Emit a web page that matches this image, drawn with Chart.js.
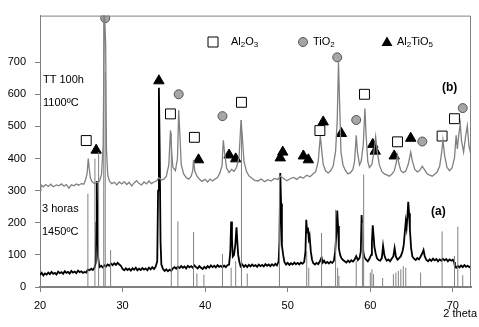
<!DOCTYPE html>
<html>
<head>
<meta charset="utf-8">
<script src="https://cdn.jsdelivr.net/npm/chart.js@4.4.0/dist/chart.umd.min.js"></script>
<style>
  html, body { margin: 0; padding: 0; background: #fff; }
  #wrap { width: 479px; height: 327px; }
</style>
</head>
<body>
<div id="wrap"><canvas id="xrd" width="479" height="327"></canvas></div>
<script>
// pattern (b): TT 100h 1100ºC (gray)
const bTheta = [20.0,20.1,20.4,20.7,21.0,21.3,21.6,22.0,22.3,22.6,22.9,23.2,23.5,23.8,24.1,24.4,24.7,25.0,25.3,25.5,25.7,25.85,25.95,26.1,26.3,26.6,26.9,27.2,27.45,27.65,27.8,27.95,28.05,28.2,28.4,28.7,29.0,29.3,29.6,29.9,30.2,30.5,30.8,31.1,31.4,31.7,32.0,32.3,32.6,32.9,33.2,33.5,33.8,34.1,34.4,34.7,35.0,35.3,35.6,35.8,35.95,36.1,36.4,36.65,36.8,36.95,37.1,37.4,37.7,38.0,38.3,38.5,38.6,38.75,39.0,39.3,39.6,40.0,40.3,40.6,40.9,41.2,41.5,41.8,42.05,42.2,42.35,42.6,42.9,43.2,43.5,43.8,44.1,44.35,44.5,44.7,45.0,45.3,45.7,46.0,46.4,46.8,47.2,47.6,48.0,48.4,48.8,49.1,49.5,49.9,50.3,50.7,51.1,51.5,51.9,52.3,52.7,53.0,53.4,53.7,53.95,54.1,54.3,54.6,54.9,55.2,55.5,55.8,56.0,56.15,56.3,56.45,56.7,57.0,57.3,57.6,57.9,58.1,58.3,58.45,58.7,58.9,59.15,59.35,59.5,59.7,59.9,60.2,60.45,60.65,60.85,61.1,61.4,61.7,62.0,62.3,62.6,62.9,63.1,63.3,63.45,63.7,64.0,64.3,64.6,64.9,65.1,65.4,65.7,66.0,66.3,66.6,66.9,67.2,67.5,67.8,68.1,68.4,68.65,68.8,69.0,69.3,69.6,69.9,70.2,70.4,70.55,70.7,70.9,71.05,71.3,71.55,71.75,71.95,72.2];
const bCounts = [300,318,312,319,313,320,312,318,315,321,314,319,308,318,315,321,317,322,320,332,352,400,372,340,328,322,326,330,350,440,860,760,430,350,330,322,326,318,327,321,328,319,326,315,324,331,322,318,327,321,330,322,327,330,340,333,336,345,380,488,420,372,362,400,550,470,382,352,341,336,344,362,396,360,346,336,329,335,327,336,330,336,341,356,378,457,420,370,356,366,360,372,402,520,470,392,360,346,338,332,330,336,328,334,330,338,335,345,338,331,337,341,335,343,339,348,343,350,360,392,470,430,382,361,355,362,376,422,520,700,560,420,380,362,352,356,366,392,472,420,380,392,442,556,470,390,372,382,422,468,420,380,360,352,349,345,351,361,382,410,386,362,356,361,382,420,392,366,358,363,376,364,352,348,345,351,358,376,420,457,410,372,362,371,402,472,430,470,508,455,420,470,502,440,410];

// pattern (a): 3 horas 1450ºC (black)
const aTheta = [20.0,20.2,20.4,20.6,20.8,21.0,21.2,21.4,21.6,21.8,22.0,22.2,22.4,22.6,22.8,23.0,23.2,23.4,23.6,23.8,24.0,24.2,24.4,24.6,24.8,25.0,25.2,25.4,25.6,25.8,26.0,26.2,26.4,26.6,26.75,26.82,26.88,26.95,27.05,27.2,27.4,27.6,27.8,28.0,28.2,28.4,28.6,28.8,29.0,29.2,29.4,29.6,29.8,30.0,30.2,30.4,30.6,30.8,31.0,31.2,31.4,31.6,31.8,32.0,32.2,32.4,32.6,32.8,33.0,33.2,33.4,33.6,33.8,34.0,34.2,34.3,34.4,34.5,34.6,34.7,34.9,35.1,35.3,35.5,35.7,35.9,36.1,36.3,36.5,36.7,36.9,37.1,37.3,37.5,37.7,37.9,38.1,38.3,38.5,38.7,38.9,39.1,39.3,39.5,39.7,39.9,40.1,40.3,40.5,40.7,40.9,41.1,41.3,41.5,41.7,41.9,42.1,42.3,42.5,42.7,42.9,43.05,43.15,43.25,43.35,43.5,43.65,43.8,43.9,44.0,44.15,44.3,44.5,44.7,44.9,45.1,45.3,45.5,45.7,45.9,46.1,46.3,46.5,46.7,46.9,47.1,47.3,47.5,47.7,47.9,48.1,48.3,48.5,48.7,48.9,49.0,49.1,49.2,49.3,49.45,49.6,49.8,50.0,50.2,50.4,50.6,50.8,51.0,51.2,51.4,51.6,51.8,52.0,52.15,52.25,52.35,52.45,52.55,52.65,52.8,52.95,53.1,53.3,53.5,53.7,53.9,54.1,54.25,54.4,54.6,54.8,55.0,55.2,55.4,55.6,55.75,55.9,56.0,56.1,56.2,56.35,56.5,56.7,56.9,57.1,57.3,57.5,57.7,57.9,58.1,58.3,58.5,58.7,58.85,58.95,59.05,59.15,59.3,59.5,59.7,59.9,60.1,60.2,60.3,60.4,60.5,60.65,60.8,61.0,61.2,61.4,61.55,61.7,61.85,62.0,62.2,62.4,62.6,62.8,62.95,63.1,63.3,63.5,63.7,63.9,64.05,64.2,64.3,64.4,64.5,64.6,64.7,64.8,64.95,65.1,65.3,65.5,65.7,65.9,66.1,66.3,66.45,66.6,66.8,67.0,67.2,67.4,67.6,67.8,68.0,68.2,68.4,68.6,68.8,69.0,69.2,69.4,69.6,69.8,70.0,70.15,70.25,70.4,70.6,70.8,71.0,71.2,71.4,71.6,71.8,72.0,72.2];
const aCounts = [38,44,36,42,39,45,40,47,41,44,39,48,43,46,41,49,44,47,42,50,45,48,43,51,46,49,44,47,45,54,52,57,53,60,75,200,330,180,90,62,66,61,68,64,70,66,73,68,74,69,75,70,66,56,52,58,53,57,51,58,54,60,52,57,53,59,54,58,52,60,55,62,56,63,80,300,620,420,140,70,56,50,55,49,54,50,58,62,57,63,59,65,60,64,58,66,61,65,60,67,62,58,65,60,56,63,58,65,60,67,62,66,61,68,63,66,61,67,62,68,70,110,204,150,95,100,130,186,140,100,78,64,70,63,68,62,69,64,70,65,68,63,70,65,69,64,71,66,70,65,71,66,72,67,80,140,355,260,130,100,78,70,75,69,74,70,76,71,75,70,76,72,78,110,209,170,185,150,160,110,85,74,70,75,71,80,92,76,82,74,78,73,79,75,82,110,170,238,190,120,100,90,84,80,76,82,77,83,79,85,96,84,90,110,224,170,110,92,85,80,88,100,140,192,160,125,105,90,84,82,90,128,100,88,82,86,80,88,96,121,95,85,90,96,110,130,175,204,185,220,265,230,180,120,95,88,84,90,86,95,105,115,95,84,80,86,81,88,83,87,80,86,82,88,83,87,80,86,82,85,78,64,60,66,61,67,62,68,63,66,62,65];

// reference pattern lines (gray sticks from zero)
const stickTheta = [25.8,26.65,27.1,27.72,27.9,28.55,35.9,36.7,38.6,39.0,39.85,42.1,43.15,43.7,44.4,45.1,49.0,52.3,52.55,54.1,55.8,56.05,56.2,58.3,59.05,59.2,60.0,60.2,60.4,61.5,62.8,63.1,63.4,63.7,64.0,64.3,66.1,68.7,70.2,70.6,71.2];
const stickHeight = [290,400,420,850,670,115,480,204,171,42,38,103,60,80,520,42,340,112,60,168,240,60,35,80,200,350,45,55,40,28,40,45,50,55,65,60,45,173,97,188,37];

// phase markers
const al2o3Theta = [25.6,35.8,38.7,44.4,53.9,59.3,63.3,68.7,70.2];
const al2o3Y = [456,539,466,575,487,600,452,470,524];
const tio2Theta = [27.9,36.8,42.1,56.0,58.3,66.3,71.2];
const tio2Y = [837,600,532,715,520,453,557];
const al2tio5Theta = [26.8,34.4,39.2,42.9,43.7,49.1,49.4,51.9,52.5,54.3,56.5,60.3,60.6,62.9,64.9];
const al2tio5Y = [426,642,396,411,399,402,420,408,396,514,478,444,423,408,463];

const xTickValues = [20, 30, 40, 50, 60, 70];
const yTickValues = [0, 100, 200, 300, 400, 500, 600, 700];

const GRAY = '#808080';
const FONT = '"Liberation Sans", Arial, sans-serif';

function pairs(xs, ys) {
    return xs.map((x, i) => ({ x: x, y: ys[i] }));
}

const stickPoints = [];
stickTheta.forEach((t, i) => {
    stickPoints.push({ x: t, y: 0 }, { x: t, y: stickHeight[i] }, { x: t, y: null });
});

function drawMarker(ctx, style, x, y) {
    ctx.save();
    ctx.lineWidth = 1;
    ctx.beginPath();
    if (style === 'rect') {
        ctx.rect(x - 5, y - 5, 10, 10);
        ctx.fillStyle = '#fff';
        ctx.strokeStyle = '#000';
        ctx.fill();
        ctx.stroke();
    } else if (style === 'circle') {
        ctx.arc(x, y, 4.5, 0, Math.PI * 2);
        ctx.fillStyle = '#a6a6a6';
        ctx.strokeStyle = '#555';
        ctx.fill();
        ctx.stroke();
    } else {
        ctx.moveTo(x, y - 5.5);
        ctx.lineTo(x + 5.5, y + 4);
        ctx.lineTo(x - 5.5, y + 4);
        ctx.closePath();
        ctx.fillStyle = '#000';
        ctx.fill();
    }
    ctx.restore();
}

// formula with subscripts: odd parts are subscripts
function drawFormula(ctx, parts, x, y) {
    let cx = x;
    parts.forEach((p, i) => {
        if (i % 2 === 0) {
            ctx.font = '11px ' + FONT;
            ctx.fillText(p, cx, y);
        } else {
            ctx.font = '8px ' + FONT;
            ctx.fillText(p, cx, y + 3);
        }
        cx += ctx.measureText(p).width;
    });
}

const decor = {
    id: 'decor',
    afterDraw(chart) {
        const ctx = chart.ctx;
        const a = chart.chartArea;
        ctx.save();
        // frame on top and right
        ctx.strokeStyle = GRAY;
        ctx.lineWidth = 1;
        ctx.beginPath();
        ctx.moveTo(a.left, a.top + 0.5);
        ctx.lineTo(a.right - 0.5, a.top + 0.5);
        ctx.lineTo(a.right - 0.5, a.bottom);
        ctx.stroke();

        // legend
        ctx.fillStyle = '#000';
        ctx.textBaseline = 'middle';
        ctx.textAlign = 'left';
        drawMarker(ctx, 'rect', 213, 42);
        drawFormula(ctx, ['Al', '2', 'O', '3'], 231, 42);
        drawMarker(ctx, 'circle', 303, 42);
        drawFormula(ctx, ['TiO', '2'], 313, 42);
        drawMarker(ctx, 'triangle', 387, 42);
        drawFormula(ctx, ['Al', '2', 'TiO', '5'], 397, 42);

        // sample notes
        ctx.fillStyle = '#000';
        ctx.font = '11px ' + FONT;
        ctx.fillText('TT 100h', 43, 80);
        ctx.fillText('1100ºC', 43, 103);
        ctx.fillText('3 horas', 42, 209);
        ctx.fillText('1450ºC', 42, 232);
        ctx.font = 'bold 12px ' + FONT;
        ctx.fillText('(b)', 442, 88);
        ctx.fillText('(a)', 431, 212);
        ctx.font = '11px ' + FONT;
        ctx.textAlign = 'right';
        ctx.fillText('2 theta', 477, 314);
        ctx.restore();
    }
};

new Chart(document.getElementById('xrd'), {
    type: 'scatter',
    data: {
        datasets: [
            {
                label: 'sticks',
                data: stickPoints,
                showLine: true,
                spanGaps: false,
                borderColor: GRAY,
                borderWidth: 1,
                pointRadius: 0
            },
            {
                label: '(b)',
                data: pairs(bTheta, bCounts),
                showLine: true,
                borderColor: GRAY,
                borderWidth: 1.3,
                pointRadius: 0
            },
            {
                label: '(a)',
                data: pairs(aTheta, aCounts),
                showLine: true,
                borderColor: '#000',
                borderWidth: 1.8,
                pointRadius: 0
            },
            {
                label: 'Al2O3',
                data: pairs(al2o3Theta, al2o3Y),
                pointStyle: 'rect',
                pointRadius: 7,
                backgroundColor: '#fff',
                borderColor: '#000',
                borderWidth: 1
            },
            {
                label: 'TiO2',
                data: pairs(tio2Theta, tio2Y),
                pointStyle: 'circle',
                pointRadius: 4.5,
                backgroundColor: '#a6a6a6',
                borderColor: '#555',
                borderWidth: 1
            },
            {
                label: 'Al2TiO5',
                data: pairs(al2tio5Theta, al2tio5Y),
                pointStyle: 'triangle',
                pointRadius: 6,
                backgroundColor: '#000',
                borderColor: '#000',
                borderWidth: 1
            }
        ]
    },
    options: {
        responsive: false,
        animation: false,
        events: [],
        layout: { padding: { top: 9, right: 4, left: 0, bottom: 0 } },
        plugins: {
            legend: { display: false },
            tooltip: { enabled: false }
        },
        scales: {
            x: {
                type: 'linear',
                min: 20,
                max: 72.2,
                afterFit: s => { s.height = 40; },
                afterBuildTicks: s => { s.ticks = xTickValues.map(v => ({ value: v })); },
                grid: { drawOnChartArea: false, color: GRAY, tickLength: 5 },
                border: { color: GRAY, width: 2 },
                ticks: { color: '#000', padding: 7, maxRotation: 0, font: { family: FONT, size: 11 } }
            },
            y: {
                type: 'linear',
                min: 0,
                max: 845,
                afterFit: s => { s.width = 40; },
                afterBuildTicks: s => { s.ticks = yTickValues.map(v => ({ value: v })); },
                grid: { drawOnChartArea: false, color: GRAY, tickLength: 5 },
                border: { color: GRAY, width: 1 },
                ticks: { color: '#000', padding: 9, font: { family: FONT, size: 11 } }
            }
        }
    },
    plugins: [decor]
});
</script>
</body>
</html>
